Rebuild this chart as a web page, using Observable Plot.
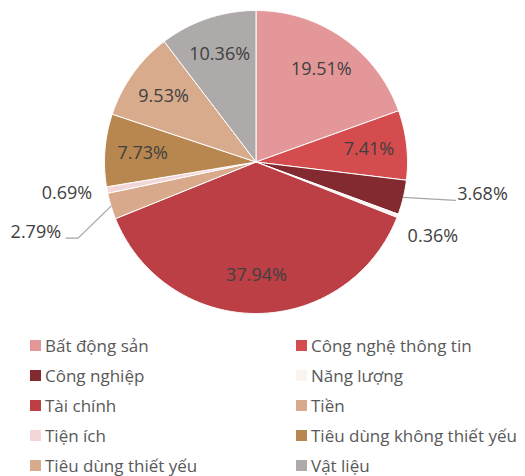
<!DOCTYPE html>
<html><head><meta charset="utf-8">
<script src="https://cdn.jsdelivr.net/npm/d3@7"></script>
<script src="https://cdn.jsdelivr.net/npm/@observablehq/plot@0.6"></script>
<style>
body{margin:0;background:#fff;font-family:"Open Sans",sans-serif;}
#legend{position:relative;width:525px;height:151px;}
.it{position:absolute;display:flex;align-items:center;font-size:17px;color:#595959;white-space:nowrap;}
.sw{width:11px;height:11px;margin-right:4px;}
</style></head>
<body><div id="chart"></div><div id="legend"></div>
<script>
const names = ["Bất động sản","Công nghệ thông tin","Công nghiệp","Năng lượng","Tài chính","Tiền","Tiện ích","Tiêu dùng không thiết yếu","Tiêu dùng thiết yếu","Vật liệu"];
const values = [19.51, 7.41, 3.68, 0.36, 37.94, 2.79, 0.69, 7.73, 9.53, 10.36];
const colors = ["#e49798","#d44c4d","#832a30","#faf3ee","#bb3f45","#d8a98a","#f2d6d8","#b8874f","#d7ab8c","#aeaaaa"];

const total = d3.sum(values);
let cum = 0;
const slices = names.map((n, i) => {
  const a0 = cum / total * 2 * Math.PI;
  cum += values[i];
  const a1 = cum / total * 2 * Math.PI;
  return {name: n, value: values[i], a0, a1, mid: (a0 + a1) / 2};
});
const pt = (a, r) => [r * Math.sin(a), r * Math.cos(a)];
const poly = [];
for (const s of slices) {
  poly.push({name: s.name, x: 0, y: 0});
  const n = Math.max(2, Math.ceil((s.a1 - s.a0) / 0.01));
  for (let k = 0; k <= n; k++) {
    const [x, y] = pt(s.a0 + (s.a1 - s.a0) * k / n, 1);
    poly.push({name: s.name, x, y});
  }
  poly.push({name: s.name, x: 0, y: 0});
}
const R = 151.5, cx = 255.5, cy = 161.5;
const u = px => px / R;
const fmt = v => v.toFixed(2) + "%";
const inside = slices.filter(s => s.value >= 5).map(s => {
  const [x, y] = pt(s.mid, 0.75);
  return {x, y, t: fmt(s.value)};
});
const edge = name => { const s = slices.find(d => d.name === name); const [x, y] = pt(s.mid, 1); return {x, y, t: fmt(s.value)}; };
const eI = edge("Công nghiệp"), eN = edge("Năng lượng"), eT = edge("Tiền"), eU = edge("Tiện ích");
const leaders = [
  {g: "a", x: eI.x, y: eI.y}, {g: "a", x: eI.x + u(52), y: eI.y - u(3)},
  {g: "b", x: eT.x, y: eT.y}, {g: "b", x: eT.x - u(33), y: eT.y - u(32)}, {g: "b", x: eT.x - u(45), y: eT.y - u(32)}
];
const txt = {fill: "#404040", fontSize: 18, fontFamily: "Open Sans"};
const chart = Plot.plot({
  width: 525, height: 326, margin: 0,
  x: {domain: [-1, 1], range: [cx - R, cx + R], axis: null},
  y: {domain: [-1, 1], range: [cy + R, cy - R], axis: null},
  color: {domain: names, range: colors},
  marks: [
    Plot.line(poly, {x: "x", y: "y", z: "name", fill: "name", stroke: "white", strokeWidth: 1, curve: "linear"}),
    Plot.line(leaders, {x: "x", y: "y", z: "g", stroke: "#a6a6a6", strokeWidth: 1.3}),
    Plot.text(inside, {x: "x", y: "y", text: "t", ...txt}),
    Plot.text([eI], {x: "x", y: "y", text: "t", textAnchor: "start", dx: 54, dy: -3, ...txt}),
    Plot.text([eN], {x: "x", y: "y", text: "t", textAnchor: "start", dx: 10, dy: 20, ...txt}),
    Plot.text([eT], {x: "x", y: "y", text: "t", textAnchor: "end", dx: -50, dy: 26, ...txt}),
    Plot.text([eU], {x: "x", y: "y", text: "t", textAnchor: "end", dx: -15, dy: 3, ...txt})
  ]
});
document.getElementById("chart").append(chart);
const lg = document.getElementById("legend");
names.forEach((n, i) => {
  const d = document.createElement("div");
  d.className = "it";
  d.style.left = (i % 2 ? 296 : 30) + "px";
  d.style.top = (8 + Math.floor(i / 2) * 30) + "px";
  d.innerHTML = `<span class="sw" style="background:${colors[i]}"></span><span>${n}</span>`;
  lg.append(d);
});
</script></body></html>
